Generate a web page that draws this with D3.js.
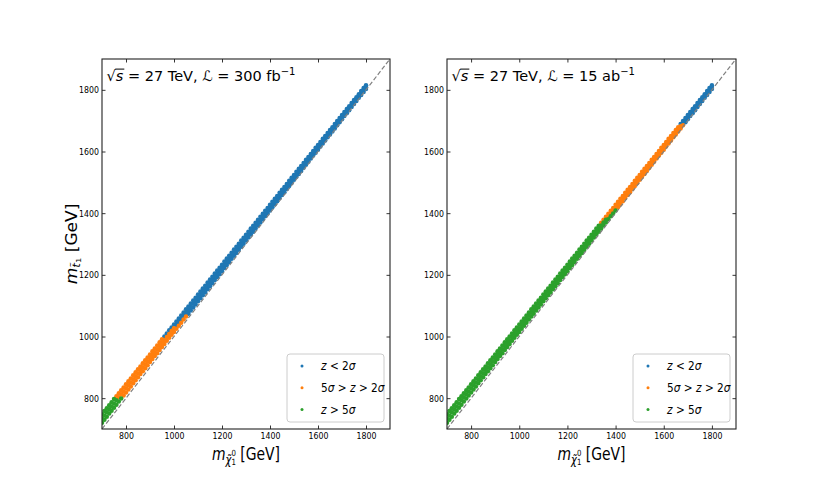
<!DOCTYPE html>
<html>
<head>
<meta charset="utf-8">
<script src="https://cdn.jsdelivr.net/npm/d3@7"></script>
<style>
body { margin: 0; background: #fff; }
text { font-family: "DejaVu Sans", sans-serif; fill: #000; }
</style>
</head>
<body>
<div id="chart"></div>
<script>
// scan points (GeV): neutralino mass, and the stop masses seen at each one
const mNeutralino = [
  700,710,720,730,740,750,760,770,780,790,
  800,810,820,830,840,850,860,870,880,890,
  900,910,920,930,940,950,960,970,980,990,
  1000,1010,1020,1030,1040,1050,1060,1070,1080,1090,
  1100,1110,1120,1130,1140,1150,1160,1170,1180,1190,
  1200,1210,1220,1230,1240,1250,1260,1270,1280,1290,
  1300,1310,1320,1330,1340,1350,1360,1370,1380,1390,
  1400,1410,1420,1430,1440,1450,1460,1470,1480,1490,
  1500,1510,1520,1530,1540,1550,1560,1570,1580,1590,
  1600,1610,1620,1630,1640,1650,1660,1670,1680,1690,
  1700,1710,1720,1730,1740,1750,1760,1770,1780,1790,
  1800
];
const mStopLow = [
  720,730,740,750,759,769,779,789,799,809,
  818,828,838,848,858,868,878,887,897,907,
  917,927,937,946,956,966,976,986,996,1006,
  1015,1025,1035,1045,1055,1065,1074,1084,1094,1104,
  1114,1124,1134,1143,1153,1163,1173,1183,1193,1202,
  1212,1222,1232,1242,1252,1262,1271,1281,1291,1301,
  1311,1321,1331,1340,1350,1360,1370,1380,1390,1399,
  1409,1419,1429,1439,1449,1459,1468,1478,1488,1498,
  1508,1518,1527,1537,1547,1557,1567,1577,1587,1596,
  1606,1616,1626,1636,1646,1655,1665,1675,1685,1695,
  1705,1715,1724,1734,1744,1754,1764,1774,1783,1793,
  1803
];
const mStopMid = [
  734,744,754,764,773,783,793,803,813,822,
  832,842,851,861,871,881,891,900,910,920,
  930,940,949,959,969,979,988,998,1008,1018,
  1027,1037,1047,1057,1067,1077,1086,1096,1106,1115,
  1125,1135,1145,1154,1164,1174,1184,1194,1204,1213,
  1223,1233,1243,1252,1262,1272,1281,1291,1301,1311,
  1321,1331,1341,1350,1360,1370,1379,1389,1399,1408,
  1418,1428,1438,1448,1458,1468,1477,1487,1497,1507,
  1516,1526,1536,1545,1555,1565,1575,1585,1595,1604,
  1614,1624,1634,1643,1653,1663,1672,1682,1692,1702,
  1712,1722,1731,1741,1751,1761,1770,1780,1790,1800,
  1809
];
const mStopHigh = [
  748,758,767,777,787,797,806,816,826,835,
  845,855,864,874,884,894,903,913,923,932,
  942,952,961,971,981,991,1000,1010,1020,1029,
  1039,1049,1058,1068,1078,1088,1097,1107,1117,1126,
  1136,1146,1156,1165,1175,1185,1194,1204,1214,1223,
  1233,1243,1253,1262,1272,1282,1291,1301,1311,1320,
  1330,1340,1350,1359,1369,1379,1388,1398,1408,1417,
  1427,1437,1447,1456,1466,1476,1485,1495,1505,1515,
  1524,1534,1544,1553,1563,1573,1582,1592,1602,1612,
  1621,1631,1641,1650,1660,1670,1679,1689,1699,1709,
  1718,1728,1738,1747,1757,1767,1776,1786,1796,1806,
  1815
];

// where the significance class changes, per panel, for [low, mid, high] stop rows
const greenUpTo = [[780, 760, 750], [1400, 1360, 1330]];
const blueFrom  = [[1060, 1010, 960], [1690, 1680, 1670]];

const lumiValues = ['300', '15'];
const lumiUnits = ['fb', 'ab'];
const tickValues = [800, 1000, 1200, 1400, 1600, 1800];
const axisRange = [700, 1900];
const legendLabels = ['z < 2σ', '5σ > z > 2σ', 'z > 5σ'];
const seriesColors = ['#1f77b4', '#ff7f0e', '#2ca02c'];

const W = 817, H = 491;
const plotTop = 59, plotBottom = 429;
const panelX = [[102, 390], [447, 736]];

const svg = d3.select('#chart').append('svg')
    .attr('width', W)
    .attr('height', H);

// italic for letters, upright for digits and relations (mathtext look)
function mathSpans(sel, str) {
    for (const ch of str) {
        sel.append('tspan')
            .style('font-style', /[a-zσ]/.test(ch) ? 'italic' : 'normal')
            .text(ch);
    }
}

panelX.forEach(([x0, x1], p) => {
    const xScale = d3.scaleLinear().domain(axisRange).range([x0, x1]);
    const yScale = d3.scaleLinear().domain(axisRange).range([plotBottom, plotTop]);

    const g = svg.append('g');

    g.append('clipPath').attr('id', 'clip' + p)
        .append('rect')
        .attr('x', x0).attr('y', plotTop)
        .attr('width', x1 - x0).attr('height', plotBottom - plotTop);

    // build the points of this panel
    const rows = [mStopLow, mStopMid, mStopHigh];
    const pts = [];
    rows.forEach((arr, j) => {
        mNeutralino.forEach((m, i) => {
            let c = 1;
            if (m <= greenUpTo[p][j]) c = 2;
            else if (m >= blueFrom[p][j]) c = 0;
            pts.push({m: m, s: arr[i], c: c});
        });
    });
    pts.sort((a, b) => a.c - b.c);

    g.append('g').attr('clip-path', 'url(#clip' + p + ')')
        .selectAll('circle')
        .data(pts)
        .join('circle')
        .attr('cx', d => xScale(d.m))
        .attr('cy', d => yScale(d.s))
        .attr('r', 2.25)
        .attr('fill', d => seriesColors[d.c]);

    // diagonal m_stop = m_neutralino
    g.append('line')
        .attr('x1', xScale(axisRange[0])).attr('y1', yScale(axisRange[0]))
        .attr('x2', xScale(axisRange[1])).attr('y2', yScale(axisRange[1]))
        .attr('stroke', '#808080')
        .attr('stroke-width', 1.2)
        .attr('stroke-dasharray', '4.5,2.2');

    // axes, ticks pointing in
    const xAxis = g.append('g')
        .attr('transform', `translate(0,${plotBottom})`)
        .call(d3.axisBottom(xScale).tickValues(tickValues).tickSizeInner(-3.5).tickSizeOuter(0).tickPadding(4).tickFormat(d3.format('d')));
    const yAxis = g.append('g')
        .attr('transform', `translate(${x0},0)`)
        .call(d3.axisLeft(yScale).tickValues(tickValues).tickSizeInner(-3.5).tickSizeOuter(0).tickPadding(3.5).tickFormat(d3.format('d')));
    g.append('g')
        .attr('transform', `translate(0,${plotTop})`)
        .call(d3.axisTop(xScale).tickValues(tickValues).tickSizeInner(-3.5).tickSizeOuter(0).tickFormat(''));
    g.append('g')
        .attr('transform', `translate(${x1},0)`)
        .call(d3.axisRight(yScale).tickValues(tickValues).tickSizeInner(-3.5).tickSizeOuter(0).tickFormat(''));

    g.selectAll('.domain').remove();
    g.selectAll('.tick line').attr('stroke', '#000').attr('stroke-width', 0.8);
    g.selectAll('.tick text')
        .attr('font-family', '"DejaVu Sans", sans-serif')
        .attr('font-size', 9)
        .attr('fill', '#000');
    xAxis.selectAll('.tick text').attr('transform', 'scale(0.87,1)');
    yAxis.selectAll('.tick text').attr('transform', 'scale(0.87,1)');

    g.append('rect')
        .attr('x', x0).attr('y', plotTop)
        .attr('width', x1 - x0).attr('height', plotBottom - plotTop)
        .attr('fill', 'none')
        .attr('stroke', '#222')
        .attr('stroke-width', 1.1);

    // panel label
    const tg = g.append('g').attr('transform', `translate(${x0 + 4.5},80.5)`);
    const title = tg.append('text').attr('font-size', 14.5);
    title.append('tspan').text('√');
    title.append('tspan').style('font-style', 'italic').text('s');
    title.append('tspan').text(' = 27 TeV, ');
    title.append('tspan').style('font-style', 'italic').text('ℒ');
    title.append('tspan').text(' = ' + lumiValues[p] + ' ' + lumiUnits[p]);
    title.append('tspan').attr('font-size', 10).attr('dy', -6).text('−1');
    const tn = title.node();
    const s0 = tn.getStartPositionOfChar(1), s1 = tn.getEndPositionOfChar(1);
    tg.append('line')
        .attr('x1', s0.x - 0.5).attr('x2', s1.x + 1)
        .attr('y1', -11.4).attr('y2', -11.4)
        .attr('stroke', '#000').attr('stroke-width', 1);

    // x label
    const xl = g.append('g')
        .attr('transform', `translate(${(x0 + x1) / 2},460)scale(0.82,1)`)
        .append('text')
        .attr('text-anchor', 'middle')
        .attr('font-size', 17);
    xl.append('tspan').style('font-style', 'italic').text('m');
    xl.append('tspan').style('font-style', 'italic').attr('font-size', 12).attr('dy', 4).text('χ̃');
    xl.append('tspan').attr('font-size', 8.5).attr('dy', -8).text('0');
    xl.append('tspan').attr('font-size', 8.5).attr('dx', -5.4).attr('dy', 9).text('1');
    xl.append('tspan').attr('dy', -5).text(' [GeV]');

    // legend
    const lx = x1 - 103, ly = 354;
    const lg = g.append('g').attr('transform', `translate(${lx},${ly})`);
    lg.append('rect')
        .attr('width', 97).attr('height', 68)
        .attr('rx', 3)
        .attr('fill', '#fff').attr('fill-opacity', 0.8)
        .attr('stroke', '#cccccc').attr('stroke-width', 1);
    legendLabels.forEach((lab, k) => {
        const yy = 12 + k * 21.7;
        lg.append('circle')
            .attr('cx', 15).attr('cy', yy).attr('r', 1.5)
            .attr('fill', seriesColors[k]);
        const t = lg.append('g')
            .attr('transform', `translate(34,${yy + 4.2})scale(0.88,1)`)
            .append('text')
            .attr('font-size', 12);
        mathSpans(t, lab);
    });
});

// y label on the left panel only
const yl = svg.append('g')
    .attr('transform', 'translate(77,244)rotate(-90)scale(1,0.88)')
    .append('text')
    .attr('text-anchor', 'middle')
    .attr('font-size', 17);
yl.append('tspan').style('font-style', 'italic').text('m');
yl.append('tspan').style('font-style', 'italic').attr('font-size', 12).attr('dy', 3).text('t̃');
yl.append('tspan').attr('font-size', 8.5).attr('dy', 2).text('1');
yl.append('tspan').attr('dy', -5).text(' [GeV]');
</script>
</body>
</html>
